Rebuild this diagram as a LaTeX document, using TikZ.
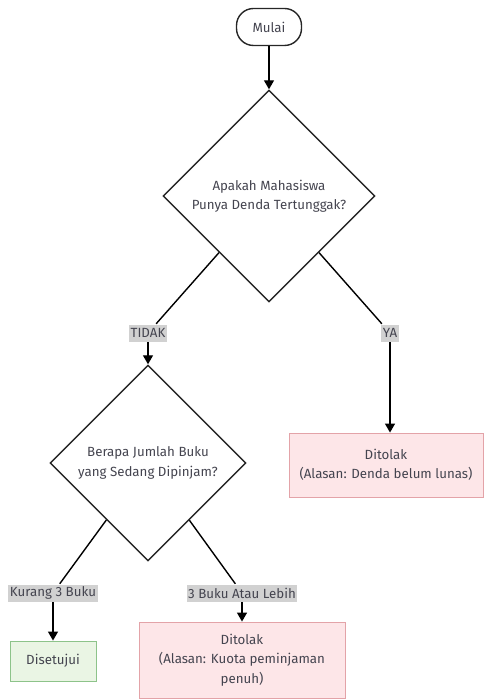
\documentclass[tikz,border=0pt]{standalone}
\usepackage{fontspec}
\setmainfont{Fira Sans}
\usetikzlibrary{positioning,shapes.geometric,arrows.meta}
\definecolor{teks}{HTML}{44444F}
\definecolor{merahisi}{HTML}{FDE6E8}
\definecolor{merahgaris}{HTML}{E3A3A8}
\definecolor{hijauisi}{HTML}{EAF5E4}
\definecolor{hijaugaris}{HTML}{8DC38A}
\tikzset{
  mulaibox/.style={draw=black!85, line width=1.4pt, rounded corners=17pt, minimum width=65pt, minimum height=37pt, text=teks},
  keputusan/.style={draw=black!85, line width=1.4pt, diamond, aspect=1, align=center, text=teks, inner sep=0pt},
  tolak/.style={draw=merahgaris, fill=merahisi, line width=0.9pt, align=center, text=teks},
  setuju/.style={draw=hijaugaris, fill=hijauisi, line width=0.9pt, align=center, text=teks},
  label/.style={fill=black!18, text=teks, inner sep=1.5pt, minimum height=17pt}
}

\begin{document}
\begin{tikzpicture}[x=1pt, y=-1pt, line width=1.4pt, >={Triangle[length=9pt,width=10pt]}, font=\fontsize{13.3}{19.5}\selectfont]
\useasboundingbox (0,0) rectangle (485,700);

% Blok
\node [mulaibox] (mulai) at (269,27) {Mulai};
\node [keputusan, minimum size=212pt] (denda) at (269,196) {Apakah Mahasiswa\\Punya Denda Tertunggak?};
\node [label] (tidak) at (148,333) {TIDAK};
\node [label] (ya) at (390,333) {YA};
\node [tolak, minimum width=194pt, minimum height=64pt] (tolakdenda) at (386,465) {Ditolak\\(Alasan: Denda belum lunas)};
\node [keputusan, minimum size=196pt] (jumlah) at (148,463) {Berapa Jumlah Buku\\yang Sedang Dipinjam?};
\node [label] (kurang) at (53,593) {Kurang 3 Buku};
\node [label] (lebih) at (242,593) {3 Buku Atau Lebih};
\node [setuju, minimum width=86pt, minimum height=40pt] (setuju) at (53,661) {Disetujui};
\node [tolak, minimum width=206pt, minimum height=76pt] (tolakkuota) at (242,660) {Ditolak\\(Alasan: Kuota peminjaman\\penuh)};

%Koneksi
\path[->] (mulai) edge (denda);
\path (denda) edge (tidak);
\path[->] (tidak) edge (jumlah);
\path (denda) edge (ya);
\path[->] (ya.south) edge (ya.south |- tolakdenda.north);
\path (jumlah) edge (kurang);
\path[->] (kurang) edge (setuju);
\path (jumlah) edge (lebih);
\path[->] (lebih) edge (tolakkuota);

\end{tikzpicture}
\end{document}
